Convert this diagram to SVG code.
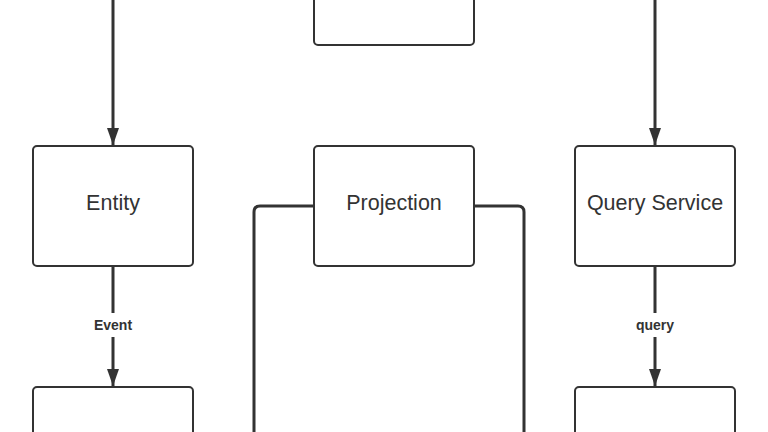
<svg xmlns="http://www.w3.org/2000/svg" width="768" height="432" viewBox="0 0 768 432">
<defs>
<style>
.box{fill:#fff;stroke:#333;stroke-width:2}
.t{font-family:"Liberation Sans",Arial,sans-serif;font-size:21.5px;fill:#333;text-anchor:middle}
.l{font-family:"Liberation Sans",Arial,sans-serif;font-size:14px;font-weight:bold;fill:#333;text-anchor:middle}
.c{fill:none;stroke:#333;stroke-width:3}
</style>
<marker id="ad" markerUnits="userSpaceOnUse" markerWidth="17" markerHeight="12" refX="17" refY="6" orient="auto" viewBox="0 0 17 12">
<path d="M0,0 L17,6 L0,12 Z" fill="#333"/>
</marker>
</defs>
<rect width="768" height="432" fill="#fff"/>
<g id="connectors">
<path class="c" d="M113,0 V145" marker-end="url(#ad)"/>
<path class="c" d="M655,0 V145" marker-end="url(#ad)"/>
<path class="c" d="M113,267 V313 M113,337 V386" marker-end="url(#ad)"/>
<path class="c" d="M655,267 V313 M655,337 V386" marker-end="url(#ad)"/>
<path class="c" d="M314,206 H260 Q254,206 254,212 V432"/>
<path class="c" d="M474,206 H518 Q524,206 524,212 V432"/>
<text class="l" x="113" y="330">Event</text>
<text class="l" x="655" y="330">query</text>
</g>
<g id="top"><rect class="box" x="314" y="-10" width="160" height="55" rx="4"/></g>
<g id="entity"><rect class="box" x="33" y="146" width="160" height="120" rx="4"/><text class="t" x="113" y="210">Entity</text></g>
<g id="projection"><rect class="box" x="314" y="146" width="160" height="120" rx="4"/><text class="t" x="394" y="210">Projection</text></g>
<g id="query-service"><rect class="box" x="575" y="146" width="160" height="120" rx="4"/><text class="t" x="655" y="210">Query Service</text></g>
<g id="bottom-left"><rect class="box" x="33" y="387" width="160" height="60" rx="4"/></g>
<g id="bottom-right"><rect class="box" x="575" y="387" width="160" height="60" rx="4"/></g>
</svg>
